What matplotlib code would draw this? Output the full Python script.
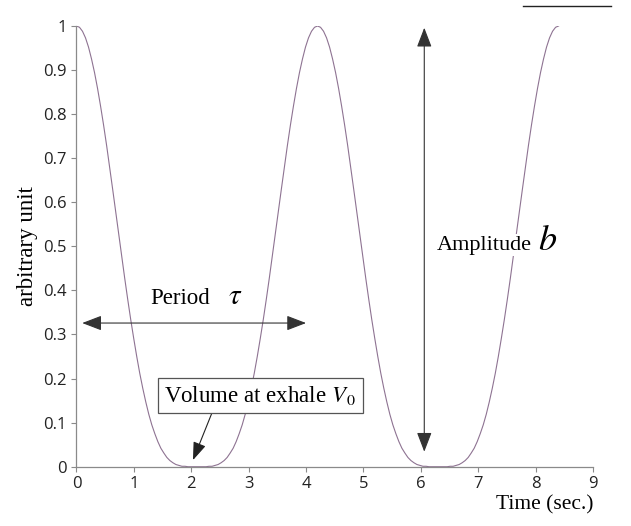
import numpy as np
import matplotlib.pyplot as plt
from matplotlib.lines import Line2D

time = np.linspace(0, 8.4, 161)
volume = [1.000, 0.997, 0.988, 0.973, 0.952, 0.925, 0.894, 0.858, 0.818, 0.775,
          0.729, 0.680, 0.630, 0.580, 0.529, 0.478, 0.428, 0.380, 0.334, 0.291,
          0.250, 0.212, 0.178, 0.147, 0.119, 0.095, 0.075, 0.057, 0.042, 0.031,
          0.021, 0.014, 0.009, 0.005, 0.003, 0.001, 0.001, 0.000, 0.000, 0.000,
          0.000, 0.000, 0.000, 0.000, 0.001, 0.001, 0.003, 0.005, 0.009, 0.014,
          0.021, 0.031, 0.042, 0.057, 0.075, 0.095, 0.119, 0.147, 0.178, 0.212,
          0.250, 0.291, 0.334, 0.380, 0.428, 0.478, 0.529, 0.580, 0.630, 0.680,
          0.729, 0.775, 0.818, 0.858, 0.894, 0.925, 0.952, 0.973, 0.988, 0.997,
          1.000, 0.997, 0.988, 0.973, 0.952, 0.925, 0.894, 0.858, 0.818, 0.775,
          0.729, 0.680, 0.630, 0.580, 0.529, 0.478, 0.428, 0.380, 0.334, 0.291,
          0.250, 0.212, 0.178, 0.147, 0.119, 0.095, 0.075, 0.057, 0.042, 0.031,
          0.021, 0.014, 0.009, 0.005, 0.003, 0.001, 0.001, 0.000, 0.000, 0.000,
          0.000, 0.000, 0.000, 0.000, 0.001, 0.001, 0.003, 0.005, 0.009, 0.014,
          0.021, 0.031, 0.042, 0.057, 0.075, 0.095, 0.119, 0.147, 0.178, 0.212,
          0.250, 0.291, 0.334, 0.380, 0.428, 0.478, 0.529, 0.580, 0.630, 0.680,
          0.729, 0.775, 0.818, 0.858, 0.894, 0.925, 0.952, 0.973, 0.988, 0.997,
          1.000]

xticks = [0, 1, 2, 3, 4, 5, 6, 7, 8, 9]
yticks = [0, 0.1, 0.2, 0.3, 0.4, 0.5, 0.6, 0.7, 0.8, 0.9, 1]
ytick_labels = ['0', '0.1', '0.2', '0.3', '0.4', '0.5', '0.6', '0.7', '0.8', '0.9', '1']

plt.rcParams['mathtext.fontset'] = 'stix'
serif = 'Liberation Serif'

fig = plt.figure(figsize=(6.31, 5.26), dpi=100)
ax = fig.add_axes([0.1212, 0.1127, 0.8186, 0.8379])

ax.plot(time, volume, color='#8e7392', lw=0.8, zorder=2)

ax.set_xlim(0, 9)
ax.set_ylim(0, 1)
ax.set_xticks(xticks)
ax.set_yticks(yticks)
ax.set_yticklabels(ytick_labels)
for side in ['top', 'right']:
    ax.spines[side].set_visible(False)
for side in ['left', 'bottom']:
    ax.spines[side].set_color('#8a8a8a')
    ax.spines[side].set_linewidth(0.9)
ax.tick_params(direction='out', length=3.5, width=0.8, color='#8a8a8a',
               labelsize=12, labelcolor='#222222')
for lab in ax.get_xticklabels() + ax.get_yticklabels():
    lab.set_family('Open Sans')

ax.set_ylabel('arbitrary unit', family=serif, fontsize=16.5, labelpad=4)
ax.set_xlabel('Time (sec.)', family=serif, fontsize=15.5, loc='right', labelpad=2)

head = dict(arrowstyle='<|-|>,head_length=0.6,head_width=0.23', color='#333333',
            lw=0.8, mutation_scale=20, shrinkA=0, shrinkB=0)

# period arrow
ax.annotate('', xy=(0.1, 0.326), xytext=(4.0, 0.326), arrowprops=head)
ax.text(1.28, 0.37, 'Period', family=serif, fontsize=16.5, va='baseline')
ax.text(2.64, 0.37, r'$\tau$', fontsize=21, va='baseline')

# amplitude arrow
ax.annotate('', xy=(6.06, 0.034), xytext=(6.06, 0.996), arrowprops=head)
ax.text(6.27, 0.4925, 'Amplitude', family=serif, fontsize=16, va='baseline',
        bbox=dict(facecolor='white', edgecolor='none', pad=1), zorder=3)
ax.text(8.05, 0.4925, r'$b$', fontsize=26, va='baseline',
        bbox=dict(facecolor='white', edgecolor='none', pad=1), zorder=3)

# exhale volume box
ax.annotate('', xy=(2.03, 0.015), xytext=(2.36, 0.122),
            arrowprops=dict(arrowstyle='-|>,head_length=0.55,head_width=0.2',
                            color='#222222', lw=0.8, mutation_scale=20,
                            shrinkA=0, shrinkB=0))
ax.text(3.21, 0.161, r'Volume at exhale $V_{\,0}$', family=serif, fontsize=16.5,
        ha='center', va='center',
        bbox=dict(boxstyle='square,pad=0.26', facecolor='white',
                  edgecolor='#555555', lw=0.9), zorder=3)

# stray rule at the top right
fig.add_artist(Line2D([0.829, 0.969], [0.9886, 0.9886], color='#222222', lw=1))

fig.savefig('out.png', dpi=100)
